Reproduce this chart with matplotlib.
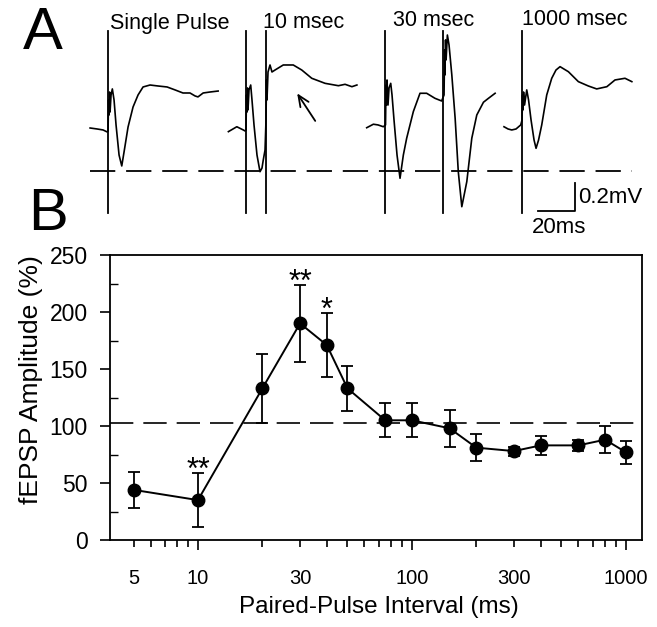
import numpy as np
import matplotlib
matplotlib.use("Agg")
import matplotlib.pyplot as plt

plt.rcParams['font.family'] = ['Liberation Sans', 'DejaVu Sans']

###########################
# Panel B: paired pulses  #
###########################
intervals = [5, 10, 20, 30, 40, 50, 75, 100, 150, 200, 300, 400, 600, 800, 1000]
amplitude = [44, 35, 133, 190, 171, 133, 105, 105, 98, 81, 78, 83, 83, 88, 77]
amp_err = [16, 24, 30, 34, 28, 20, 15, 15, 16, 12, 4, 8, 5, 12, 10]
stars = {10: '**', 30: '**', 40: '*'}

###########################
# Panel A: example traces #
###########################
# each trace: time (ms from first stimulus), voltage (mV above the dashed baseline)
single_pre_t = [-9.7, -5.9, -2.7, -0.5]
single_pre_v = [0.307, 0.30, 0.293, 0.279]
single_t = [0, 0.27, 0.54, 0.81, 1.08, 1.62, 2.32, 3.24, 4.32, 5.95, 7.41, 8.65, 10.81, 13.51,
            16.22, 18.92, 22.7, 27.0, 31.9, 36.2, 40.5, 44.3, 47.0, 48.6, 51.4, 55.1, 59.5]
single_v = [0.286, 0.507, 0.40, 0.564, 0.421, 0.543, 0.586, 0.507, 0.329, 0.114, 0.036, 0.136,
            0.314, 0.457, 0.543, 0.60, 0.614, 0.607, 0.60, 0.579, 0.557, 0.557, 0.536, 0.529,
            0.557, 0.564, 0.571]

p10_pre_t = [-9.35, -4.81, -1.3, -0.38]
p10_pre_v = [0.281, 0.316, 0.293, 0.286]
p10_t = [0.16, 0.43, 0.7, 0.97, 1.24, 1.78, 2.7, 3.4, 4.49, 6.1, 7.73, 8.8, 9.5, 10.45,
         10.97, 11.24, 11.5, 12.06, 13.14, 14.2, 15.84, 20.3, 25.7, 30.3, 35.7, 42.9, 50.1,
         53.7, 57.4, 60.1]
p10_v = [0.293, 0.543, 0.421, 0.593, 0.436, 0.579, 0.614, 0.507, 0.329, 0.114, -0.005, 0.021,
         0.079, 0.15, 0.364, 0.65, 0.507, 0.707, 0.757, 0.707, 0.721, 0.757, 0.757, 0.721,
         0.662, 0.626, 0.609, 0.619, 0.602, 0.614]

p30_pre_t = [-9.9, -6.3, -3.8, -0.92]
p30_pre_v = [0.309, 0.334, 0.329, 0.316]
p30_t = [0.27, 0.54, 0.81, 1.08, 1.62, 2.16, 3.08, 3.78, 4.86, 6.49, 8.11, 9.9, 11.7, 15.3,
         18.9, 22.5, 27.0, 30.6, 31.9, 32.2, 32.4, 32.7, 33.0, 33.7, 34.6, 36.1, 37.9, 39.6,
         41.5, 44.2, 46.9, 49.6, 53.2, 55.9, 59.5]
p30_v = [0.329, 0.614, 0.471, 0.65, 0.471, 0.593, 0.626, 0.543, 0.364, 0.114, -0.052, 0.114,
         0.234, 0.424, 0.555, 0.555, 0.519, 0.50, 0.543, 0.864, 0.686, 0.936, 0.793, 0.971,
         0.90, 0.686, 0.376, -0.005, -0.255, -0.076, 0.234, 0.40, 0.491, 0.519, 0.555]

p1000_pre_t = [-9.6, -7.4, -5.4, -3.1, -0.54]
p1000_pre_v = [0.316, 0.30, 0.293, 0.30, 0.329]
p1000_t = [0.16, 0.43, 0.7, 0.97, 1.51, 2.7, 3.68, 5.03, 6.65, 7.73, 9.08, 10.8, 13.5, 16.2,
           18.5, 20.7, 25.2, 30.6, 36.0, 40.5, 46.0, 50.4, 55.8, 59.5]
p1000_v = [0.364, 0.543, 0.436, 0.564, 0.471, 0.579, 0.507, 0.364, 0.221, 0.162, 0.221, 0.329,
           0.543, 0.662, 0.721, 0.745, 0.709, 0.638, 0.607, 0.586, 0.602, 0.65, 0.662, 0.638]

# stimulus times (ms) for each trace
single_stim = [0]
p10_stim = [0, 10.8]
p30_stim = [0, 31.5]
p1000_stim = [0]
trace_titles = ['Single Pulse', '10 msec', '30 msec', '1000 msec']

fig = plt.figure(figsize=(6.57, 6.27), dpi=100)

# ---- panel A ----
ax_a = fig.add_axes([0, 1 - 235 / 627, 1, 235 / 627])
ax_a.set_xlim(0, 355.1)
ax_a.set_ylim(-0.457, 1.221)
ax_a.axis('off')

onsets = [58.4, 132.8, 208.1, 282.0]
traces = [(single_pre_t, single_pre_v, single_t, single_v, single_stim),
          (p10_pre_t, p10_pre_v, p10_t, p10_v, p10_stim),
          (p30_pre_t, p30_pre_v, p30_t, p30_v, p30_stim),
          (p1000_pre_t, p1000_pre_v, p1000_t, p1000_v, p1000_stim)]
for x0, (pt, pv, tt, tv, st) in zip(onsets, traces):
    ax_a.plot(np.array(pt + tt) + x0, pv + tv, color='black', lw=1.2)
    for s in st:
        ax_a.plot([x0 + s, x0 + s], [-0.30, 1.0], color='black', lw=1.3)

ax_a.plot([48.6, 341.6], [0, 0], color='black', lw=1.3, dashes=(14, 6))

# arrow pointing at the second response
ax_a.annotate('', xy=(onsets[1] + 27.0, 0.571), xytext=(onsets[1] + 38.4, 0.341),
              arrowprops=dict(arrowstyle='->,head_length=0.8,head_width=0.35',
                              color='black', lw=1.3))

# scale bar
ax_a.plot([290.8, 310.8, 310.8], [-0.286, -0.286, -0.086], color='black', lw=1.3)
ax_a.text(312.5, -0.186, '0.2mV', fontsize=16, va='center', ha='left')
ax_a.text(302, -0.33, '20ms', fontsize=16, va='top', ha='center')

title_x = [110, 263, 393, 522]
title_base = [29, 28, 26, 25]
for tx, ty, title in zip(title_x, title_base, trace_titles):
    fig.text(tx / 657, 1 - ty / 627, title, fontsize=15.5, va='baseline', ha='left')

fig.text(23 / 657, 1 - 49 / 627, 'A', fontsize=43, va='baseline', ha='left')
fig.text(28 / 657, 1 - 230 / 627, 'B', fontsize=43, va='baseline', ha='left')

# ---- panel B ----
ax = fig.add_axes([110 / 657, 1 - 540 / 627, 532 / 657, 285 / 627])
ax.errorbar(intervals, amplitude, yerr=amp_err, color='black', lw=1.4, marker='o',
            markersize=9, capsize=4.5, elinewidth=1.3, capthick=1.3)
ax.axhline(103, color='black', lw=1.2, dashes=(14, 6))
for x, s in stars.items():
    i = intervals.index(x)
    ax.annotate(s, xy=(x, amplitude[i] + amp_err[i]), xytext=(0, -4.5),
                textcoords='offset points', ha='center', va='baseline', fontsize=22)

ax.set_xscale('log')
ax.set_xlim(3.88, 1190)
ax.set_ylim(0, 250)

major_x = [10, 100, 1000]
minor_x = [5, 6, 7, 8, 9, 20, 30, 40, 50, 60, 70, 80, 90, 200, 300, 400, 500, 600, 700, 800, 900]
minor_lab = ['5', '', '', '', '', '', '30', '', '', '', '', '', '', '', '300', '', '', '', '', '', '']
ax.set_xticks(major_x, ['10', '100', '1000'])
ax.set_xticks(minor_x, minor_lab, minor=True)
ax.tick_params(axis='x', which='major', direction='out', length=7.2, width=1.2, pad=14, labelsize=14.5)
ax.tick_params(axis='x', which='minor', direction='out', length=5, width=1.2, pad=16.2, labelsize=14.5)

ax.set_yticks([0, 50, 100, 150, 200, 250])
ax.set_yticks([25, 75, 125, 175, 225], minor=True)
ax.tick_params(axis='y', which='major', direction='out', length=7, width=1.2, pad=9, labelsize=16.5)
ax.tick_params(axis='y', which='minor', direction='in', length=6, width=1.0)

for sp in ax.spines.values():
    sp.set_linewidth(1.3)

fig.text(379 / 657, 1 - 607 / 627, 'Paired-Pulse Interval (ms)', fontsize=17.5,
         ha='center', va='center')
fig.text(31 / 657, 1 - 380 / 627, 'fEPSP Amplitude (%)', fontsize=19, rotation=90,
         ha='center', va='center')

fig.savefig('out.png', dpi=100)
